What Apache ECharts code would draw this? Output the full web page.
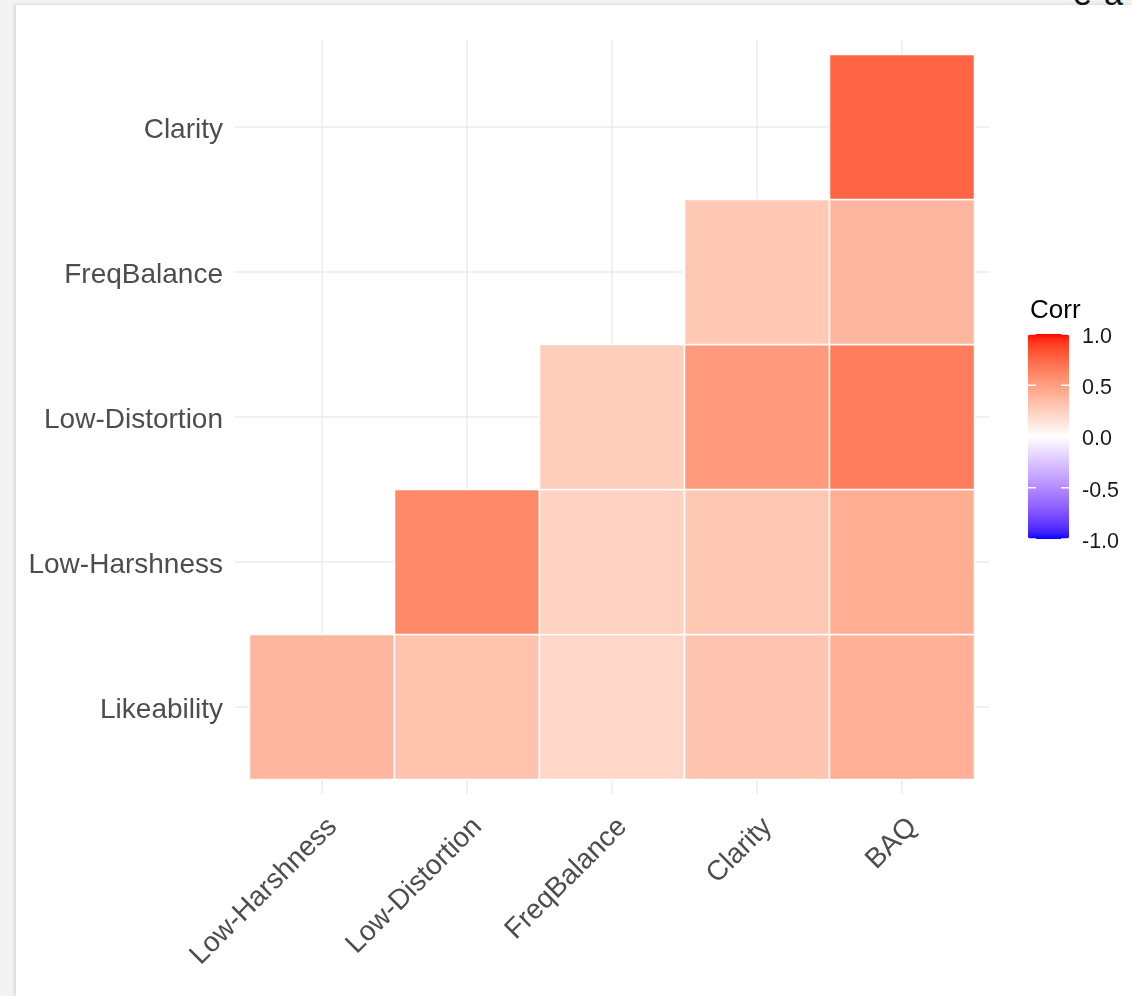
<!DOCTYPE html>
<html>
<head>
<meta charset="utf-8">
<script src="https://cdn.jsdelivr.net/npm/echarts@6/dist/echarts.min.js"></script>
<style>
  html, body { margin: 0; padding: 0; width: 1132px; height: 996px; overflow: hidden; background: #f3f3f3; }
  #card { position: absolute; left: 16px; top: 5px; right: 0; bottom: 0; background: #ffffff;
          box-shadow: -2px -1px 3px rgba(0,0,0,0.10); }
  #head { position: absolute; left: 1073px; top: -24px; font: 34px "Liberation Sans", Arial, sans-serif;
          color: #111; letter-spacing: 12px; line-height: 34px; white-space: nowrap; }
  #chart { position: absolute; left: 0; top: 0; width: 1132px; height: 996px; }
</style>
</head>
<body>
<div id="card"></div>
<div id="head">ea</div>
<div id="chart"></div>
<script>
// Variables along each axis
const xCategories = ['Low-Harshness', 'Low-Distortion', 'FreqBalance', 'Clarity', 'BAQ'];
const yCategories = ['Likeability', 'Low-Harshness', 'Low-Distortion', 'FreqBalance', 'Clarity'];

// Correlations per row (one value per x category, null = upper triangle left empty)
const corrLikeability   = [0.38, 0.32, 0.21, 0.31, 0.41];
const corrLowHarshness  = [null, 0.60, 0.24, 0.29, 0.42];
const corrLowDistortion = [null, null, 0.26, 0.52, 0.66];
const corrFreqBalance   = [null, null, null, 0.29, 0.38];
const corrClarity       = [null, null, null, null, 0.76];

// Colour bar
const legendTitle = 'Corr';
const legendTicks = [1.0, 0.5, 0.0, -0.5, -1.0];

const rows = [corrLikeability, corrLowHarshness, corrLowDistortion, corrFreqBalance, corrClarity];
const cells = [];
rows.forEach((row, yi) => row.forEach((v, xi) => { if (v !== null) cells.push([xi, yi, v]); }));

// Diverging blue - white - red scale, interpolated in CIE Lab
const LAB_WHITE = [100, 0, 0];
const LAB_RED = [53.24, 80.09, 67.20];
const LAB_BLUE = [32.30, 79.19, -107.86];
function labToHex(L, a, b) {
  const fy = (L + 16) / 116, fx = fy + a / 500, fz = fy - b / 200;
  const inv = t => (t > 6 / 29 ? t * t * t : 3 * (6 / 29) * (6 / 29) * (t - 4 / 29));
  const X = 0.95047 * inv(fx), Y = inv(fy), Z = 1.08883 * inv(fz);
  let r = 3.2406 * X - 1.5372 * Y - 0.4986 * Z;
  let g = -0.9689 * X + 1.8758 * Y + 0.0415 * Z;
  let bl = 0.0557 * X - 0.2040 * Y + 1.0570 * Z;
  const gam = c => {
    c = Math.min(1, Math.max(0, c));
    c = c <= 0.0031308 ? 12.92 * c : 1.055 * Math.pow(c, 1 / 2.4) - 0.055;
    return Math.round(c * 255).toString(16).padStart(2, '0');
  };
  return '#' + gam(r) + gam(g) + gam(bl);
}
function corrColor(v) {
  const end = v >= 0 ? LAB_RED : LAB_BLUE, t = Math.abs(v);
  return labToHex(
    LAB_WHITE[0] + t * (end[0] - LAB_WHITE[0]),
    LAB_WHITE[1] + t * (end[1] - LAB_WHITE[1]),
    LAB_WHITE[2] + t * (end[2] - LAB_WHITE[2]));
}
const colorStops = [];
for (let i = 0; i <= 40; i++) colorStops.push(corrColor(-1 + i / 20));

// Layout
const GRID = { left: 235, right: 143, top: 40, bottom: 202 };
const BAR = { left: 1028, top: 334, width: 41, height: 205 };
const AXIS_FONT = '"Liberation Sans", Arial, sans-serif';

const legendGraphics = [{
  type: 'text', left: 1030, top: 298,
  style: { text: legendTitle, font: '26px ' + AXIS_FONT, fill: '#000' }
}];
legendTicks.forEach(v => {
  const y = BAR.top + (1 - v) / 2 * BAR.height;
  legendGraphics.push({
    type: 'text', x: 1082, y: y + 3,
    style: { text: v.toFixed(1), font: '21.5px ' + AXIS_FONT, fill: '#1a1a1a', textVerticalAlign: 'middle' }
  });
  legendGraphics.push({ type: 'line', z: 100, shape: { x1: BAR.left, y1: y, x2: BAR.left + 8, y2: y },
    style: { stroke: '#ffffff', lineWidth: 1.5 } });
  legendGraphics.push({ type: 'line', z: 100, shape: { x1: BAR.left + BAR.width - 8, y1: y, x2: BAR.left + BAR.width, y2: y },
    style: { stroke: '#ffffff', lineWidth: 1.5 } });
});

const idx = [0, 1, 2, 3, 4];
const chart = echarts.init(document.getElementById('chart'), null, { renderer: 'canvas' });
chart.setOption({
  backgroundColor: 'transparent',
  animation: false,
  grid: GRID,
  xAxis: {
    type: 'value', min: -0.6, max: 4.6,
    axisLine: { show: false },
    axisTick: { show: false, customValues: idx },
    splitLine: { show: true, lineStyle: { color: '#ebebeb', width: 1.5 } },
    axisLabel: {
      customValues: idx, rotate: 45, margin: 18,
      verticalAlign: 'top', lineHeight: 30,
      formatter: v => xCategories[Math.round(v)],
      fontSize: 28, fontFamily: AXIS_FONT, color: '#4d4d4d'
    }
  },
  yAxis: {
    type: 'value', min: -0.6, max: 4.6,
    axisLine: { show: false },
    axisTick: { show: false, customValues: idx },
    splitLine: { show: true, lineStyle: { color: '#ebebeb', width: 1.5 } },
    axisLabel: {
      customValues: idx, margin: 12,
      verticalAlign: 'top', lineHeight: 7,
      formatter: v => yCategories[Math.round(v)],
      fontSize: 28, fontFamily: AXIS_FONT, color: '#4d4d4d'
    }
  },
  visualMap: {
    type: 'continuous', min: -1, max: 1, dimension: 2, seriesIndex: 0,
    calculable: false, hoverLink: false, text: null, padding: 0,
    left: BAR.left, top: BAR.top, itemWidth: BAR.width, itemHeight: BAR.height,
    inRange: { color: colorStops }
  },
  graphic: legendGraphics,
  series: [{
    type: 'custom',
    data: cells,
    encode: { x: 0, y: 1 },
    renderItem: (params, api) => {
      const x = api.value(0), y = api.value(1);
      const p0 = api.coord([x - 0.5, y + 0.5]);
      const p1 = api.coord([x + 0.5, y - 0.5]);
      return {
        type: 'rect',
        shape: { x: p0[0], y: p0[1], width: p1[0] - p0[0], height: p1[1] - p0[1] },
        style: { fill: api.visual('color'), stroke: '#ffffff', lineWidth: 1.5 }
      };
    }
  }]
});
</script>
</body>
</html>
